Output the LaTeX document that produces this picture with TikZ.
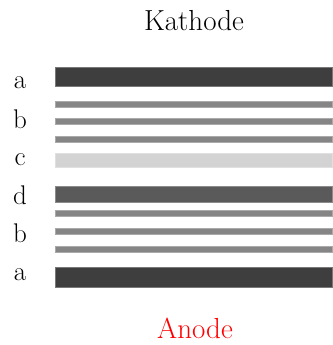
\documentclass[tikz,border=0pt]{standalone}
\definecolor{layerA}{HTML}{3E3E3E}
\definecolor{layerB}{HTML}{858585}
\definecolor{layerC}{HTML}{D3D3D3}
\definecolor{layerD}{HTML}{5A5A5A}
\begin{document}
\begin{tikzpicture}[x=1pt,y=-1pt,
  lbl/.style={anchor=base,inner sep=0pt,font=\fontsize{27}{31}\selectfont},
  ttl/.style={anchor=base,inner sep=0pt,font=\fontsize{29}{34}\selectfont},
  bar/.style={draw=#1!70!white,line width=0.8pt,fill=#1}]
\useasboundingbox (0,0) rectangle (332,345);
% layers
\path[bar=layerA] (55.5,67) rectangle (332,86);
\path[bar=layerB] (55.5,101) rectangle (332,107);
\path[bar=layerB] (55.5,118.5) rectangle (332,124.5);
\path[bar=layerB] (55.5,136) rectangle (332,142);
\path[bar=layerC] (55.5,153) rectangle (332,167);
\path[bar=layerD] (55.5,186) rectangle (332,202);
\path[bar=layerB] (55.5,210.5) rectangle (332,216.5);
\path[bar=layerB] (55.5,228.5) rectangle (332,234.5);
\path[bar=layerB] (55.5,246.5) rectangle (332,252.5);
\path[bar=layerA] (55.5,267) rectangle (332,287);
% labels
\node[lbl] (la1) at (20,88) {a};
\node[lbl] (lb1) at (20,128) {b};
\node[lbl] (lc) at (20,165) {c};
\node[lbl] (ld) at (20,204) {d};
\node[lbl] (lb2) at (20,242) {b};
\node[lbl] (la2) at (20,280) {a};
\node[ttl] (kath) at (194,31) {Kathode};
\node[ttl,text=red] (anode) at (195,338) {Anode};
\end{tikzpicture}
\end{document}
